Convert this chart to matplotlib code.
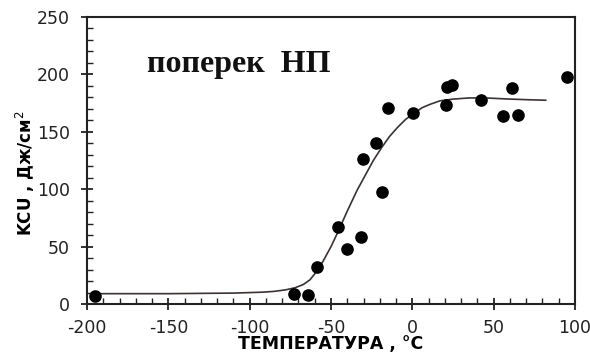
import matplotlib
matplotlib.use("Agg")
import matplotlib.pyplot as plt
from matplotlib.ticker import MultipleLocator

# Measured impact toughness points
temp_pts = [-195, -73, -64, -58.6, -45.7, -40.2, -31.6, -18.7, -30.4, -22.4,
            -15, 0.4, 20.6, 21.5, 24.6, 42.2, 55.7, 65, 61.2, 95]
kcu_pts = [7, 8.5, 8, 32, 67, 48, 58, 98, 126, 140,
           171, 166, 173, 189, 191, 178, 164, 165, 188, 198]

# Fitted transition curve
temp_fit = [-195, -150, -110, -92, -85, -78, -72, -67, -63, -59, -55, -50, -46,
            -40, -34, -29, -24, -19, -14, -9, -4, 1, 6, 11, 17, 25, 35, 45, 60,
            70, 82]
kcu_fit = [9, 9, 9.5, 10.3, 11, 12.3, 14.2, 17, 21, 28, 37, 50, 62,
           81, 99, 112, 125, 136, 146, 154, 161, 166, 171, 174, 177, 178.5,
           179.5, 179.5, 178.5, 178, 177.5]

x_ticks = [-200, -150, -100, -50, 0, 50, 100]
y_ticks = [0, 50, 100, 150, 200, 250]

plt.rcParams["font.family"] = ["DejaVu Sans"]
plt.rcParams["axes.unicode_minus"] = False

fig = plt.figure(figsize=(5.9, 3.59), dpi=100)
ax = fig.add_axes([0.1475, 0.1532, 0.9746 - 0.1475, 0.9526 - 0.1532])

ax.plot(temp_fit, kcu_fit, color="#3b3232", lw=1.2, zorder=2)
ax.scatter(temp_pts, kcu_pts, s=65, color="black", zorder=3)

ax.set_xlim(-200, 100)
ax.set_ylim(0, 250)
ax.set_xticks(x_ticks)
ax.set_yticks(y_ticks)
ax.xaxis.set_minor_locator(MultipleLocator(10))
ax.yaxis.set_minor_locator(MultipleLocator(10))
ax.tick_params(which="major", direction="inout", length=9, width=1.3,
               labelsize=12.5, colors="#222222")
ax.tick_params(axis="x", which="major", pad=6)
ax.tick_params(axis="y", which="major", pad=8)
ax.tick_params(which="minor", direction="in", length=4, width=1.0, color="#222222")
for s in ax.spines.values():
    s.set_linewidth(1.5)
    s.set_color("#222222")

ax.set_xlabel("ТЕМПЕРАТУРА , °С", fontsize=12.5, fontweight="bold", labelpad=-1)
ax.set_ylabel("KCU , Дж/см$^2$", fontsize=12, fontweight="bold")
ax.yaxis.set_label_coords(-0.103, 0.456)

ax.text(-163, 202, "поперек  НП", fontsize=23, fontweight="bold",
        family=["Liberation Serif", "DejaVu Serif"], color="#111111",
        va="baseline")

fig.savefig("out.png", dpi=100)
